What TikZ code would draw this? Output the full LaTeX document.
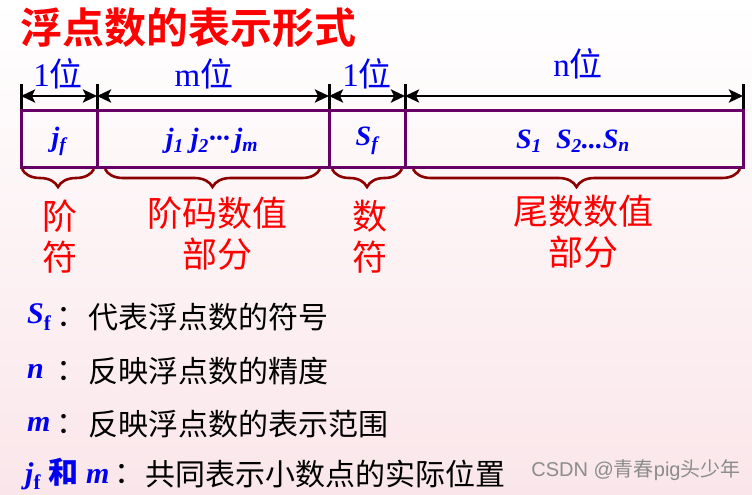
\documentclass[tikz,border=0pt]{standalone}
\usepackage{fontspec}
\setmainfont{Liberation Serif}
\newfontfamily\zh{Noto Sans CJK SC}
\newfontfamily\zhbold{Noto Sans CJK SC Bold}
\newfontfamily\wmfont{Liberation Sans}
\usetikzlibrary{arrows.meta,decorations.pathreplacing}
\definecolor{boxpurple}{RGB}{102,0,102}
\definecolor{bracered}{RGB}{140,0,0}
\definecolor{fieldblue}{RGB}{0,0,240}
\definecolor{bgpink}{RGB}{250,230,234}
\tikzset{
    boxline/.style={draw=boxpurple, line width=3pt},
    tickline/.style={line width=3pt},
    sizearrow/.style={line width=2.6pt, {Stealth[length=14pt,width=13pt,inset=3pt]}-{Stealth[length=14pt,width=13pt,inset=3pt]}},
    bitlabel/.style={text=fieldblue, inner sep=0pt, font=\fontsize{33}{33}\selectfont},
    fieldtext/.style={text=fieldblue, inner sep=0pt, font=\fontsize{28}{28}\selectfont\bfseries\itshape},
    bracestyle/.style={draw=bracered, line width=2.6pt, decorate, decoration={brace, mirror, amplitude=18pt}},
    partlabel/.style={text=red, inner sep=0pt, align=center, font=\fontsize{35}{41}\selectfont\zh},
    symtext/.style={text=fieldblue, inner sep=0pt, anchor=west, font=\fontsize{30}{30}\selectfont\bfseries\itshape},
    desctext/.style={inner sep=0pt, anchor=west, font=\fontsize{30}{30}\selectfont\zh}
}
\begin{document}
\begin{tikzpicture}[x=1pt, y=-1pt]
    % background
    \shade[top color=white, bottom color=bgpink] (0,0) rectangle (752,495);
    \useasboundingbox (0,0) rectangle (752,495);

    % title
    \node[text=red, inner sep=0pt, anchor=west, font=\fontsize{42}{42}\selectfont\zhbold] (title) at (20,28) {浮点数的表示形式};

    % dividers of the word
    \coordinate (d0) at (21,110);
    \coordinate (d1) at (97,110);
    \coordinate (d2) at (329,110);
    \coordinate (d3) at (405,110);
    \coordinate (d4) at (743,110);
    \foreach \x [count=\i from 0] in {21,97,329,405,743} {
        \coordinate (t\i) at (\x,84);
        \coordinate (a\i) at (\x,96);
        \draw[tickline] (t\i) -- (d\i);
    }

    % widths
    \draw[sizearrow] (a0) -- (a1);
    \draw[sizearrow] (a1) -- (a2);
    \draw[sizearrow] (a2) -- (a3);
    \draw[sizearrow] (a3) -- (a4);
    \node[bitlabel] (w1) at (58,74) {1{\zh 位}};
    \node[bitlabel] (w2) at (204,74) {m{\zh 位}};
    \node[bitlabel] (w3) at (367,74) {1{\zh 位}};
    \node[bitlabel] (w4) at (578,64) {n{\zh 位}};

    % the word itself
    \draw[boxline] (21,110) rectangle (743,167);
    \draw[boxline] (d1) -- (97,167);
    \draw[boxline] (d2) -- (329,167);
    \draw[boxline] (d3) -- (405,167);
    \node[fieldtext] (jf) at (59,141) {j\textsubscript{f}};
    \node[fieldtext] (jm) at (212,141) {j\textsubscript{1}\ j\textsubscript{2}···\,j\textsubscript{m}};
    \node[fieldtext] (sf) at (367,141) {S\textsubscript{f}};
    \node[fieldtext] (sn) at (573,141) {S\textsubscript{1}\ \ S\textsubscript{2}...S\textsubscript{n}};

    % braces and their parts
    \draw[bracestyle] (22,169) -- (94,169);
    \draw[bracestyle] (105,169) -- (320,169);
    \draw[bracestyle] (332,169) -- (402,169);
    \draw[bracestyle] (413,169) -- (740,169);
    \node[partlabel] (p1) at (60,237) {阶\\符};
    \node[partlabel] (p2) at (217,234) {阶码数值\\部分};
    \node[partlabel] (p3) at (370,237) {数\\符};
    \node[partlabel] (p4) at (583,232) {尾数数值\\部分};

    % notes
    \node[symtext] (n1) at (27,317) {S\textsubscript{\upshape f}};
    \node[desctext] (c1) at (56,317) {：};
    \node[desctext] (e1) at (88,317) {代表浮点数的符号};
    \node[symtext] (n2) at (27,371) {n};
    \node[desctext] (c2) at (56,371) {：};
    \node[desctext] (e2) at (88,371) {反映浮点数的精度};
    \node[symtext] (n3) at (27,424) {m};
    \node[desctext] (c3) at (56,424) {：};
    \node[desctext] (e3) at (88,424) {反映浮点数的表示范围};
    \node[symtext] (n4) at (25,474) {j\textsubscript{\upshape f} {\upshape\zhbold 和} m};
    \node[desctext] (c4) at (114,474) {：};
    \node[desctext] (e4) at (145,474) {共同表示小数点的实际位置};

    % watermark
    \node[text=black!45, inner sep=0pt, font=\fontsize{20}{20}\selectfont\wmfont] (wm) at (636,470) {CSDN @{\zh 青春}pig{\zh 头少年}};
\end{tikzpicture}
\end{document}
